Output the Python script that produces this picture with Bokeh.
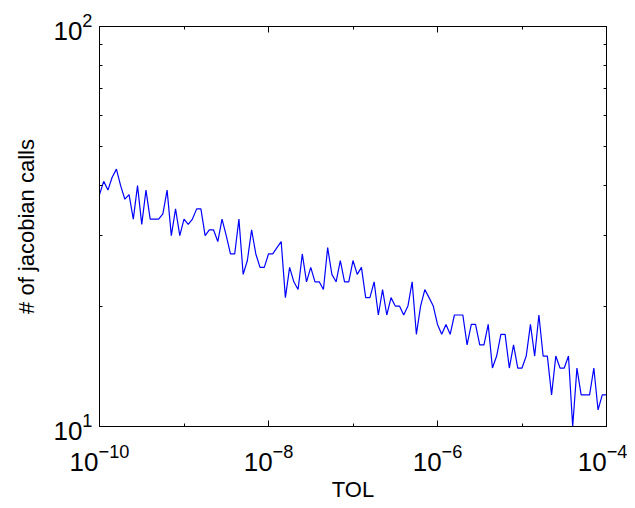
import numpy as np
from bokeh.plotting import figure
from bokeh.models import LogAxis, FixedTicker, Range1d, CustomJSTickFormatter, ColumnDataSource
from bokeh.embed import file_html
from bokeh.resources import INLINE

# TOL values (121 log-spaced tolerances from 1e-10 to 1e-4)
tol = np.logspace(-10, -4, 121)
jacobian_calls = [
    38, 41, 39, 42, 44, 40, 37, 38, 33, 40,
    32, 39, 33, 33, 33, 34, 39, 30, 35, 30,
    33, 32, 33, 35, 35, 30, 31, 31, 29, 33,
    30, 27, 27, 33, 24, 26, 31, 27, 25, 25,
    27, 27, 28, 29, 21, 25, 23, 22, 27, 23,
    25, 23, 23, 22, 28, 24, 23, 26, 23, 23,
    26, 24, 25, 21, 21, 23, 19, 22, 19, 21,
    20, 20, 19, 20, 23, 17, 20, 22, 21, 20,
    18, 17, 18, 17, 19, 19, 19, 16, 18, 18,
    16, 16, 18, 14, 15, 17, 17, 14, 16, 14,
    14, 15, 18, 15, 19, 15, 15, 12, 15, 14,
    14, 15, 10, 14, 12, 12, 12, 14, 11, 12,
    12,
]

x_major = [1e-10, 1e-8, 1e-6, 1e-4]
x_minor = [1e-9, 1e-7, 1e-5]
y_major = [10, 100]
y_minor = [20, 30, 40, 50, 60, 70, 80, 90]

FONT = "Liberation Sans"

source = ColumnDataSource(data=dict(tol=tol, calls=jacobian_calls))

p = figure(width=627, height=506,
           x_axis_type="log", y_axis_type="log",
           x_range=Range1d(1e-10, 1e-4), y_range=Range1d(10, 100),
           output_backend="svg", toolbar_location=None,
           min_border_left=99, min_border_right=21,
           min_border_top=26, min_border_bottom=80)

p.line("tol", "calls", source=source, line_color="#0000ff", line_width=1.2)

p.grid.visible = False
p.outline_line_color = "black"
p.outline_line_width = 1
p.background_fill_color = "white"
p.border_fill_color = "white"

xt = FixedTicker(ticks=x_major, minor_ticks=x_minor)
yt = FixedTicker(ticks=y_major, minor_ticks=y_minor)

def style(ax):
    ax.axis_line_color = "black"
    ax.axis_line_width = 1
    ax.major_tick_line_color = "black"
    ax.minor_tick_line_color = "black"
    ax.major_tick_in = 6
    ax.major_tick_out = 0
    ax.minor_tick_in = 3
    ax.minor_tick_out = 0
    ax.major_label_text_font = FONT
    ax.major_label_text_font_size = "26px"
    ax.major_label_text_color = "black"
    ax.axis_label_text_font = FONT
    ax.axis_label_text_font_size = "22px"
    ax.axis_label_text_font_style = "normal"
    ax.axis_label_text_color = "black"

p.xaxis.ticker = xt
p.yaxis.ticker = yt
style(p.xaxis[0])
style(p.yaxis[0])
p.xaxis.axis_label = "TOL"
p.yaxis.axis_label = "# of jacobian calls"
p.xaxis.major_label_standoff = 17
p.yaxis.major_label_standoff = 7
p.xaxis.axis_label_standoff = 3
p.yaxis.axis_label_standoff = 11

blank = CustomJSTickFormatter(code="return '';")
top = LogAxis(ticker=FixedTicker(ticks=x_major, minor_ticks=x_minor), formatter=blank)
right = LogAxis(ticker=FixedTicker(ticks=y_major, minor_ticks=y_minor), formatter=blank)
style(top)
style(right)
top.major_label_standoff = 0
right.major_label_standoff = 0
p.add_layout(top, "above")
p.add_layout(right, "right")

open("out.html", "w").write(file_html(p, INLINE))
